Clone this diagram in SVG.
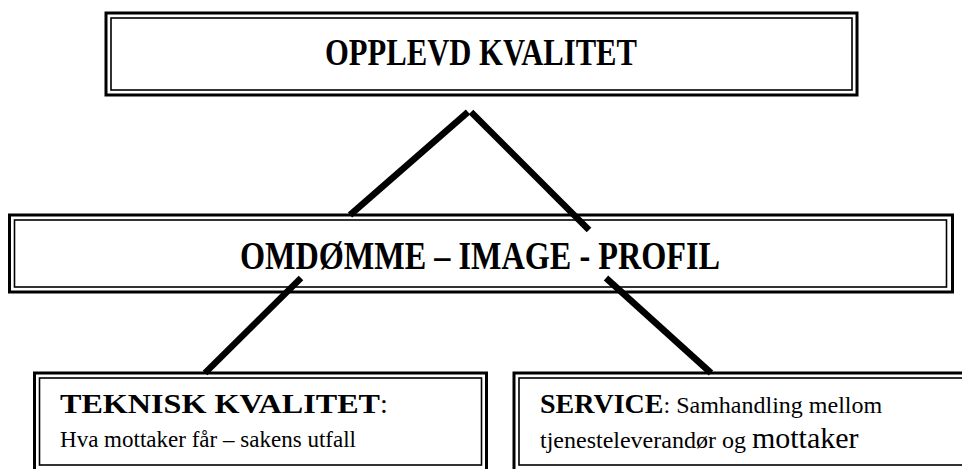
<svg xmlns="http://www.w3.org/2000/svg" width="962" height="469" viewBox="0 0 962 469">
  <style>
    .outer { fill: none; stroke: #000; stroke-width: 3; }
    .inner { fill: none; stroke: #000; stroke-width: 1.6; }
    .link { stroke: #000; stroke-width: 6.5; stroke-linecap: butt; fill: none; }
    .title { font-family: "Liberation Serif", "Times New Roman", serif; font-weight: bold; text-anchor: middle; }
    .head { font-family: "Liberation Serif", "Times New Roman", serif; font-weight: bold; font-size: 28px; }
    .body { font-family: "Liberation Serif", "Times New Roman", serif; font-weight: normal; font-size: 24px; }
    .big { font-size: 30px; }
  </style>
  <rect width="962" height="469" fill="#fff"/>

  <!-- connectors -->
  <g id="connectors">
    <line class="link" x1="468" y1="112" x2="350" y2="215"/>
    <line class="link" x1="471" y1="112" x2="589" y2="230"/>
    <line class="link" x1="301" y1="278" x2="205" y2="373"/>
    <line class="link" x1="606" y1="278" x2="711" y2="373"/>
  </g>

  <g id="node-opplevd">
    <rect class="outer" x="106" y="13" width="751" height="82"/>
    <rect class="inner" x="111" y="18" width="741" height="72"/>
    <text class="title" x="481" y="65" font-size="37" textLength="312" lengthAdjust="spacingAndGlyphs">OPPLEVD KVALITET</text>
  </g>

  <g id="node-omdomme">
    <rect class="outer" x="9.5" y="215" width="943" height="77"/>
    <rect class="inner" x="14.5" y="220" width="932" height="67"/>
    <text class="title" x="480" y="269" font-size="39" textLength="480" lengthAdjust="spacingAndGlyphs">OMDØMME – IMAGE - PROFIL</text>
  </g>

  <g id="node-teknisk">
    <rect class="outer" x="34.5" y="373" width="452" height="100"/>
    <rect class="inner" x="39.5" y="378" width="442" height="87"/>
    <text x="60" y="413"><tspan class="head" textLength="320" lengthAdjust="spacingAndGlyphs">TEKNISK KVALITET</tspan><tspan class="body" style="font-size:28px">:</tspan></text>
    <text class="body" x="60" y="447" textLength="296" lengthAdjust="spacingAndGlyphs">Hva mottaker får – sakens utfall</text>
  </g>

  <g id="node-service">
    <rect class="outer" x="514" y="373" width="460" height="100"/>
    <rect class="inner" x="519" y="378" width="460" height="87"/>
    <text x="540" y="413"><tspan class="head">SERVICE</tspan><tspan class="body">: Samhandling mellom</tspan></text>
    <text x="540" y="448"><tspan class="body">tjenesteleverandør og </tspan><tspan class="body big">mottaker</tspan></text>
  </g>
</svg>
